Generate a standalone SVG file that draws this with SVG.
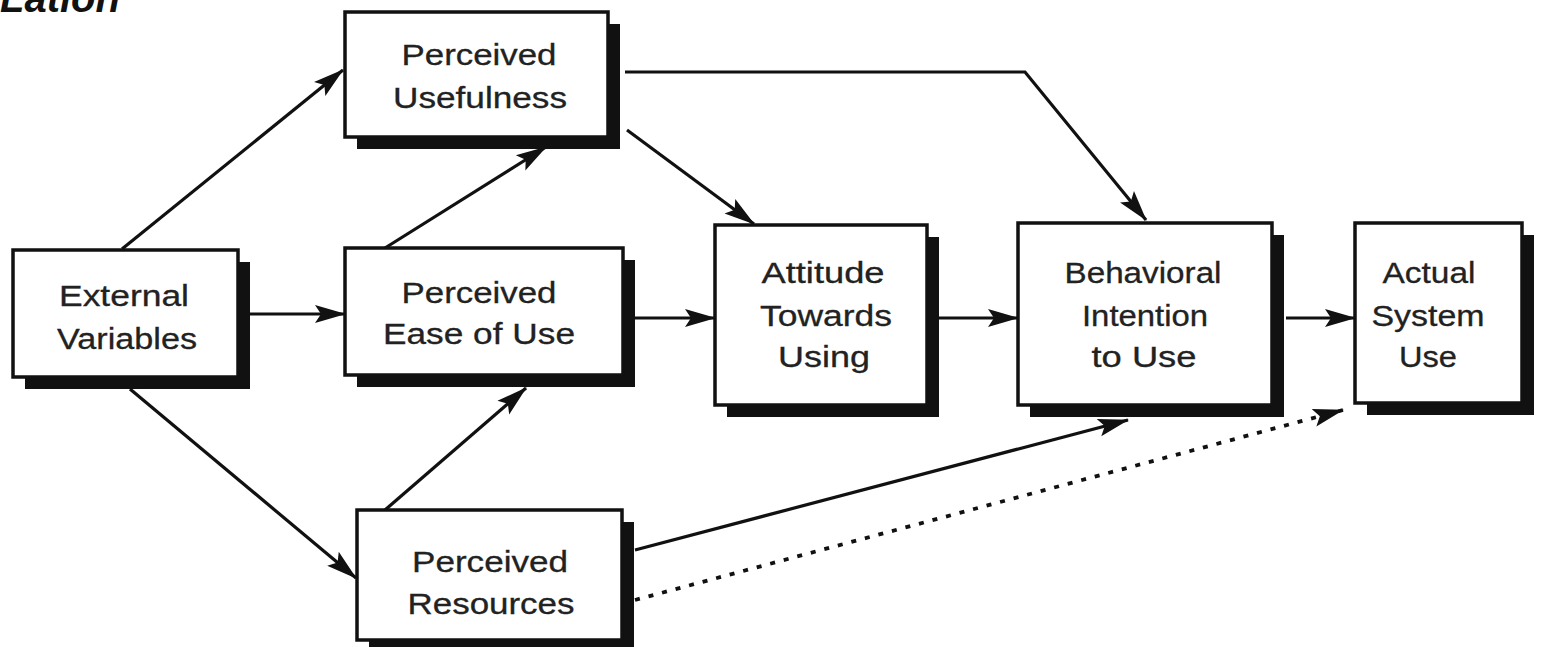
<svg xmlns="http://www.w3.org/2000/svg" width="1544" height="647" viewBox="0 0 1544 647">
<style>
.box{fill:#fff;stroke:#111;stroke-width:3.5}
.sh{fill:#111}
.t{font-family:"Liberation Sans",Arial,sans-serif;font-size:29px;fill:#222;text-anchor:middle;stroke:#222;stroke-width:0.3}
.c{fill:none;stroke:#111;stroke-width:3.2}
.d{fill:none;stroke:#111;stroke-width:3.8;stroke-dasharray:5 9}
</style>
<defs>
<marker id="ah" markerUnits="userSpaceOnUse" markerWidth="32" markerHeight="22" refX="30" refY="11" orient="auto">
<path d="M0,2 L31,11 L0,20 L6,11 z" fill="#111"/>
</marker>
</defs>
<rect width="1544" height="647" fill="#fff"/>
<text x="0" y="12" style="font-family:'Liberation Sans',Arial,sans-serif;font-size:40px;font-weight:bold;font-style:italic;fill:#111">Lation</text>

<g id="connectors">
<line class="c" x1="122" y1="249" x2="343" y2="70" marker-end="url(#ah)"/>
<line class="c" x1="250" y1="314" x2="345" y2="314" marker-end="url(#ah)"/>
<line class="c" x1="130" y1="389" x2="356" y2="578" marker-end="url(#ah)"/>
<line class="c" x1="385" y1="248" x2="546" y2="147" marker-end="url(#ah)"/>
<line class="c" x1="385" y1="510" x2="526" y2="388" marker-end="url(#ah)"/>
<line class="c" x1="627" y1="130" x2="754" y2="224" marker-end="url(#ah)"/>
<polyline class="c" points="625,72 1025,72 1146,220" marker-end="url(#ah)"/>
<line class="c" x1="635" y1="318" x2="715" y2="318" marker-end="url(#ah)"/>
<line class="c" x1="938" y1="318" x2="1018" y2="318" marker-end="url(#ah)"/>
<line class="c" x1="1286" y1="318" x2="1355" y2="318" marker-end="url(#ah)"/>
<line class="c" x1="635" y1="550" x2="1128" y2="420" marker-end="url(#ah)"/>
<line class="d" x1="635" y1="600" x2="1343" y2="410" marker-end="url(#ah)"/>
</g>

<g id="external-variables">
<rect class="sh" x="25" y="262" width="225" height="127"/>
<rect class="box" x="13" y="250" width="225" height="127"/>
<text class="t" x="124" y="306" textLength="130" lengthAdjust="spacingAndGlyphs">External</text>
<text class="t" x="127" y="349" textLength="140" lengthAdjust="spacingAndGlyphs">Variables</text>
</g>

<g id="perceived-usefulness">
<rect class="sh" x="357" y="24" width="263" height="125"/>
<rect class="box" x="345" y="12" width="263" height="125"/>
<text class="t" x="479" y="65" textLength="155" lengthAdjust="spacingAndGlyphs">Perceived</text>
<text class="t" x="480" y="108" textLength="174" lengthAdjust="spacingAndGlyphs">Usefulness</text>
</g>

<g id="perceived-ease-of-use">
<rect class="sh" x="357" y="260" width="278" height="127"/>
<rect class="box" x="345" y="248" width="278" height="127"/>
<text class="t" x="479" y="303" textLength="155" lengthAdjust="spacingAndGlyphs">Perceived</text>
<text class="t" x="479" y="344" textLength="192" lengthAdjust="spacingAndGlyphs">Ease of Use</text>
</g>

<g id="perceived-resources">
<rect class="sh" x="369" y="522" width="265" height="130"/>
<rect class="box" x="357" y="510" width="265" height="130"/>
<text class="t" x="490" y="572" textLength="156" lengthAdjust="spacingAndGlyphs">Perceived</text>
<text class="t" x="491" y="614" textLength="167" lengthAdjust="spacingAndGlyphs">Resources</text>
</g>

<g id="attitude-towards-using">
<rect class="sh" x="727" y="237" width="212" height="180"/>
<rect class="box" x="715" y="225" width="212" height="180"/>
<text class="t" x="823" y="283" textLength="123" lengthAdjust="spacingAndGlyphs">Attitude</text>
<text class="t" x="826" y="326" textLength="132" lengthAdjust="spacingAndGlyphs">Towards</text>
<text class="t" x="824" y="367" textLength="92" lengthAdjust="spacingAndGlyphs">Using</text>
</g>

<g id="behavioral-intention-to-use">
<rect class="sh" x="1030" y="235" width="254" height="182"/>
<rect class="box" x="1018" y="223" width="254" height="182"/>
<text class="t" x="1143" y="283" textLength="157" lengthAdjust="spacingAndGlyphs">Behavioral</text>
<text class="t" x="1145" y="326" textLength="126" lengthAdjust="spacingAndGlyphs">Intention</text>
<text class="t" x="1144" y="367" textLength="105" lengthAdjust="spacingAndGlyphs">to Use</text>
</g>

<g id="actual-system-use">
<rect class="sh" x="1367" y="235" width="167" height="180"/>
<rect class="box" x="1355" y="223" width="167" height="180"/>
<text class="t" x="1429" y="283" textLength="93" lengthAdjust="spacingAndGlyphs">Actual</text>
<text class="t" x="1428" y="326" textLength="113" lengthAdjust="spacingAndGlyphs">System</text>
<text class="t" x="1428" y="367" textLength="58" lengthAdjust="spacingAndGlyphs">Use</text>
</g>
</svg>
